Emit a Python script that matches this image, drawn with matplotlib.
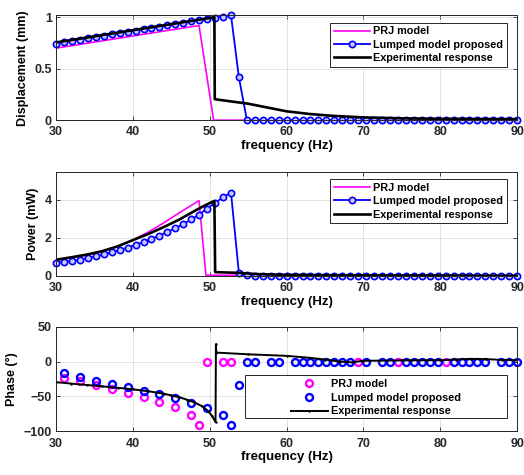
import matplotlib
matplotlib.use("Agg")
import matplotlib.pyplot as plt
from matplotlib.patches import Rectangle

plt.rcParams['font.family'] = ['Liberation Sans', 'DejaVu Sans']
plt.rcParams['font.weight'] = 'bold'
plt.rcParams['axes.labelweight'] = 'bold'

# frequency grid of the lumped model (Hz)
freq = [30.00, 31.03, 32.07, 33.10, 34.14, 35.17, 36.21, 37.24, 38.28, 39.31,
        40.34, 41.38, 42.41, 43.45, 44.48, 45.52, 46.55, 47.59, 48.62, 49.66,
        50.69, 51.72, 52.76, 53.79, 54.83, 55.86, 56.90, 57.93, 58.97, 60.00,
        61.03, 62.07, 63.10, 64.14, 65.17, 66.21, 67.24, 68.28, 69.31, 70.34,
        71.38, 72.41, 73.45, 74.48, 75.52, 76.55, 77.59, 78.62, 79.66, 80.69,
        81.72, 82.76, 83.79, 84.83, 85.86, 86.90, 87.93, 88.97, 90.00]

# displacement (mm)
lump_disp = [0.745, 0.758, 0.770, 0.783, 0.795, 0.808, 0.821, 0.833, 0.846, 0.858,
             0.871, 0.884, 0.896, 0.909, 0.921, 0.934, 0.947, 0.959, 0.972, 0.984,
             0.997, 1.006, 1.020, 0.417, 0.0, 0.0, 0.0, 0.0, 0.0, 0.0,
             0.0, 0.0, 0.0, 0.0, 0.0, 0.0, 0.0, 0.0, 0.0, 0.0,
             0.0, 0.0, 0.0, 0.0, 0.0, 0.0, 0.0, 0.0, 0.0, 0.0,
             0.0, 0.0, 0.0, 0.0, 0.0, 0.0, 0.0, 0.0, 0.0]
prj_disp_f = [30, 48.6, 50.5, 90]
prj_disp = [0.70, 0.92, 0.0, 0.0]
exp_disp_f = [30, 50.6, 50.65, 51, 55, 60, 63, 66, 70, 75, 80, 90]
exp_disp = [0.755, 1.0, 0.204, 0.2, 0.16, 0.086, 0.06, 0.042, 0.027, 0.018, 0.013, 0.01]

# power (mW)
lump_pow = [0.68, 0.73, 0.79, 0.86, 0.94, 1.03, 1.13, 1.24, 1.36, 1.49,
            1.63, 1.78, 1.95, 2.12, 2.31, 2.51, 2.72, 2.96, 3.22, 3.53,
            3.83, 4.12, 4.37, 0.15, 0.03, 0.02, 0.02, 0.02, 0.02, 0.02,
            0.02, 0.02, 0.02, 0.02, 0.02, 0.02, 0.02, 0.02, 0.02, 0.02,
            0.01, 0.01, 0.01, 0.01, 0.01, 0.01, 0.01, 0.01, 0.01, 0.01,
            0.01, 0.01, 0.01, 0.01, 0.01, 0.01, 0.01, 0.01, 0.01]
prj_pow_f = [30, 32, 34, 36, 38, 40, 42, 44, 46, 48.6, 49.5, 90]
prj_pow = [0.82, 0.95, 1.1, 1.3, 1.55, 1.88, 2.3, 2.78, 3.3, 3.95, 0.04, 0.02]
exp_pow_f = [30, 32, 34, 36, 38, 40, 42, 44, 46, 48, 49, 50, 50.6, 50.7, 54, 56, 60, 70, 90]
exp_pow = [0.85, 0.98, 1.12, 1.3, 1.55, 1.88, 2.2, 2.56, 2.95, 3.4, 3.62, 3.82, 3.93,
           0.2, 0.16, 0.1, 0.06, 0.03, 0.01]

# phase (deg)
lump_ph_f = [31.03, 33.10, 35.17, 37.24, 39.31, 41.38, 43.45, 45.52, 47.59, 49.66,
             51.72, 52.76, 53.79, 54.83, 55.86, 57.93, 58.97, 61.03, 62.07, 63.10,
             64.14, 65.17, 66.21, 67.24, 68.28, 70.34, 72.41, 73.45, 75.52, 76.55,
             77.59, 78.62, 79.66, 81.72, 82.76, 83.79, 84.83, 85.86, 87.93, 88.97, 90.00]
lump_ph = [-16.7, -21.9, -27.1, -32.4, -37.1, -41.9, -47.1, -52.4, -59.0, -66.0,
           -77.0, -90.5, -33.3, 0, 0, 0, 0, 0, 0, 0,
           0, 0, 0, 0, 0, 0, 0, 0, 0, 0,
           0, 0, 0, 0, 0, 0, 0, 0, 0, 0, 0]
prj_ph_f = [31.03, 33.10, 35.17, 37.24, 39.31, 41.38, 43.45, 45.52, 47.59, 48.62,
            49.66, 51.72, 52.76, 69.31, 74.48, 80.69]
prj_ph = [-22.9, -27.6, -33.3, -38.6, -44.8, -51.0, -57.6, -65.7, -76.2, -91.0,
          0, 0, 0, 0, 0, 0]
exp_ph_f = [30, 32, 34, 36, 38, 40, 42, 44, 45, 46, 47, 48, 49, 49.8, 50.3, 50.75,
            50.8, 50.85, 55, 60, 63, 65, 67, 68.5, 70, 75, 80, 82, 84, 86, 88, 90]
exp_ph = [-29.5, -31.5, -33.5, -35.5, -37.5, -39.8, -42.5, -46, -48.5, -51, -54.5,
          -58.5, -64, -71, -78, -87, 25, 13, 10.5, 8.3, 5.5, 3, 0, -1, 1.2, 1.8,
          2, 3, 4, 3.5, 2.5, 2]

fig = plt.figure(figsize=(5.24, 4.75), dpi=100)
ax1 = fig.add_axes([0.107, 0.747, 0.880, 0.221])
ax2 = fig.add_axes([0.107, 0.419, 0.880, 0.219])
ax3 = fig.add_axes([0.107, 0.092, 0.880, 0.220])

MAG = '#ff00ff'
BLU = '#0000ff'

# displacement
ax1.plot(prj_disp_f, prj_disp, color=MAG, lw=1.2, label='PRJ model')
ax1.plot(freq, lump_disp, color=BLU, lw=1.3, marker='o', ms=4.5, mfc='#c8c8ff',
         mew=1.2, label='Lumped model proposed', clip_on=False)
ax1.plot(exp_disp_f, exp_disp, color='black', lw=1.9, label='Experimental response')
ax1.set_ylim(0, 1.02)
ax1.set_yticks([0, 0.5, 1])
ax1.set_yticklabels(['0', '0.5', '1'])
ax1.set_ylabel('Displacement (mm)', fontsize=9)

# power
ax2.plot(prj_pow_f, prj_pow, color=MAG, lw=1.2, label='PRJ model')
ax2.plot(freq, lump_pow, color=BLU, lw=1.3, marker='o', ms=4.5, mfc='#c8c8ff',
         mew=1.2, label='Lumped model proposed', clip_on=False)
ax2.plot(exp_pow_f, exp_pow, color='black', lw=1.9, label='Experimental response')
ax2.set_ylim(0, 5.45)
ax2.set_yticks([0, 2, 4])
ax2.set_ylabel('Power (mW)', fontsize=9)

# phase
ax3.plot(prj_ph_f, prj_ph, ls='none', marker='o', ms=5, mfc='none', mec=MAG,
         mew=1.7, label='PRJ model', clip_on=False)
ax3.plot(lump_ph_f, lump_ph, ls='none', marker='o', ms=5, mfc='none', mec=BLU,
         mew=1.7, label='Lumped model proposed', clip_on=False)
ax3.plot(exp_ph_f, exp_ph, color='black', lw=1.4, marker='.', ms=1.5,
         label='Experimental response')
ax3.set_ylim(-100, 50)
ax3.set_yticks([-100, -50, 0, 50])
ax3.set_ylabel('Phase (°)', fontsize=9)

for ax in (ax1, ax2, ax3):
    ax.set_xlim(30, 90)
    ax.set_xticks([30, 40, 50, 60, 70, 80, 90])
    ax.set_xlabel('frequency (Hz)', fontsize=9.5, labelpad=1)
    ax.grid(True, color='#dedede', lw=0.6)
    ax.set_axisbelow(True)
    ax.tick_params(direction='in', length=3, width=0.6, top=True, right=True,
                   labelsize=9, pad=3, colors='#262626')
    ax.tick_params(axis='x', pad=4.5)
    for lab in ax.get_xticklabels() + ax.get_yticklabels():
        lab.set_fontweight('bold')
    for s in ax.spines.values():
        s.set_linewidth(0.7)
        s.set_color('#262626')

for ax in (ax1, ax2):
    leg = ax.legend(loc='upper right', bbox_to_anchor=(0.978, 0.93), fontsize=7.8,
                    handlelength=3.3, handletextpad=0.3, borderpad=0.35,
                    labelspacing=0.3, borderaxespad=0, fancybox=False,
                    framealpha=1, numpoints=1, prop={'weight': 'bold', 'size': 7.8})
    leg.get_frame().set_edgecolor('#262626')
    leg.get_frame().set_linewidth(0.7)

box = Rectangle((0.41, 0.128), 0.568, 0.412, transform=ax3.transAxes,
                facecolor='white', edgecolor='#262626', lw=0.7, zorder=4)
ax3.add_patch(box)
leg3 = ax3.legend(loc='center', bbox_to_anchor=(0.694, 0.322), frameon=False,
                  handlelength=3.4, handletextpad=0.3, borderpad=0,
                  labelspacing=0.35, borderaxespad=0, numpoints=1,
                  prop={'weight': 'bold', 'size': 7.8})
leg3.set_zorder(5)

fig.savefig('out.png', dpi=100)
